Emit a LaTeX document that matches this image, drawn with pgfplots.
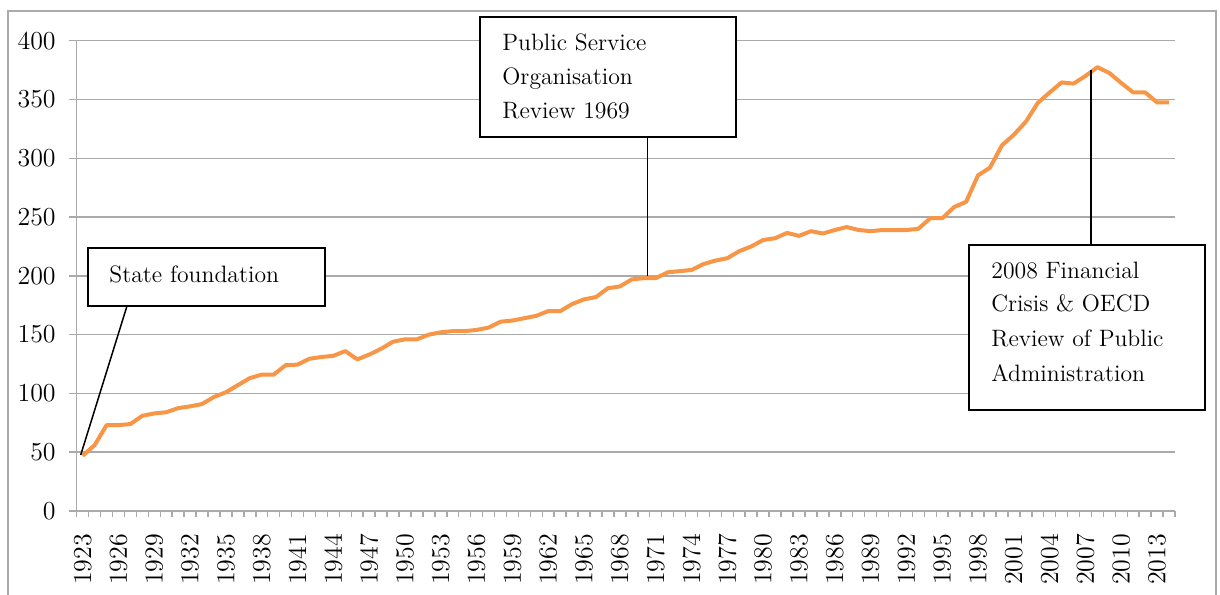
\documentclass[border=0pt]{standalone}
\usepackage{pgfplots}
\pgfplotsset{compat=1.18}
\definecolor{lineorange}{RGB}{247,150,70}
\definecolor{gridgray}{RGB}{170,170,170}
\pgfplotstableread{
year value
1923 47
1924 56
1925 73
1926 73
1927 74
1928 81
1929 83
1930 84
1931 87.5
1932 89
1933 91
1934 97
1935 101
1936 107
1937 113
1938 116
1939 116
1940 124
1941 124.5
1942 129.5
1943 131
1944 132
1945 136
1946 129
1947 133
1948 138
1949 144
1950 146
1951 146
1952 150
1953 152
1954 153
1955 153
1956 154
1957 156
1958 161
1959 162
1960 164
1961 166
1962 170
1963 170
1964 176
1965 180
1966 182
1967 189.5
1968 191
1969 197
1970 198
1971 198
1972 203
1973 204
1974 205
1975 210
1976 213
1977 215
1978 221
1979 225
1980 230.5
1981 232
1982 236.5
1983 234
1984 238
1985 236
1986 239
1987 241.5
1988 239
1989 238
1990 239
1991 239
1992 239
1993 240
1994 249
1995 249
1996 258.5
1997 263
1998 285.5
1999 292
2000 311
2001 320
2002 331
2003 347
2004 356
2005 364.5
2006 363.5
2007 370
2008 377.5
2009 372.5
2010 364
2011 356
2012 356
2013 347.5
2014 347.5
}\datatable
\begin{document}
\begin{tikzpicture}[x=1bp,y=1bp]
\useasboundingbox (-38.35,-41.5) rectangle (571.65,255.5);
\draw[gridgray, line width=0.75bp] (-34.35,-60) -- (-34.35,250) -- (569.65,250) -- (569.65,-60);
\begin{axis}[
  at={(0,0)}, anchor=south west,
  scale only axis, width=549.15bp, height=235.15bp,
  xmin=1922.5, xmax=2014.5, ymin=0, ymax=400,
  axis x line*=bottom, axis y line*=left,
  x axis line style={-, gridgray, line width=0.75bp},
  y axis line style={-, gridgray, line width=0.75bp},
  ytick={0,50,...,400},
  xtick={1923,1926,...,2013},
  minor xtick={1922.5,1923.5,...,2014.5},
  major x tick style={draw=none},
  minor x tick style={gridgray, line width=0.75bp},
  major y tick style={gridgray, line width=0.75bp},
  tick align=outside,
  major tick length=4bp, minor tick length=3bp,
  ymajorgrids,
  major grid style={gridgray, line width=0.75bp},
  /pgf/number format/.cd, 1000 sep={}, assume math mode=true,
  /pgfplots/.cd,
  tick label style={font=\fontsize{13}{15}\selectfont},
  yticklabel style={xshift=-3bp},
  xticklabel style={rotate=90, anchor=east, yshift=0bp, xshift=-4bp},
  clip=false,
]
\addplot[lineorange, line width=2bp, line join=round] table[x=year, y=value] {\datatable};
\end{axis}
\begin{scope}[font=\fontsize{11.9}{17}\selectfont]
\draw[line width=1bp, fill=white] (5.65,102.5) rectangle (124.15,131.5);
\node[anchor=base west, inner sep=0] at (16.15,114.5) {State foundation};
\draw[line width=0.75bp] (25.15,102.5) -- (2,28);
\draw[line width=1bp, fill=white] (201.65,187) rectangle (329.65,247);
\node[anchor=base west, inner sep=0] at (212.65,230.15) {Public Service};
\node[anchor=base west, inner sep=0] at (212.65,213.5) {Organisation};
\node[anchor=base west, inner sep=0] at (212.65,196.5) {Review 1969};
\draw[line width=0.75bp] (285.4,187) -- (285.4,117.5);
\draw[line width=1bp, fill=white] (446.15,50.5) rectangle (564.15,133);
\node[anchor=base west, inner sep=0] at (457.15,116.5) {2008 Financial};
\node[anchor=base west, inner sep=0] at (457.15,100) {Crisis \& OECD};
\node[anchor=base west, inner sep=0] at (457.15,82.5) {Review of Public};
\node[anchor=base west, inner sep=0] at (457.15,65) {Administration};
\draw[line width=0.75bp] (507.15,133) -- (507.15,220.5);
\end{scope}
\end{tikzpicture}
\end{document}
